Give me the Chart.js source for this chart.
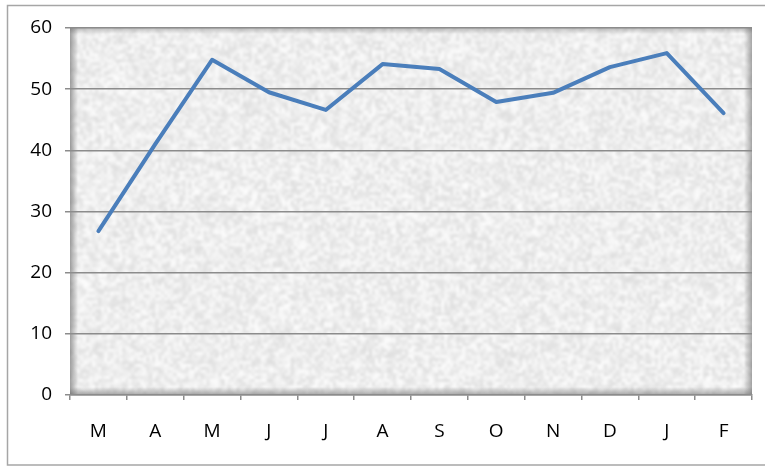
<!DOCTYPE html>
<html>
<head>
<meta charset="utf-8">
<script src="https://cdn.jsdelivr.net/npm/chart.js@4.4.1/dist/chart.umd.min.js"></script>
<style>
  html, body { margin: 0; padding: 0; background: #fff; }
  #wrap { width: 765px; height: 466px; position: relative; }
</style>
</head>
<body>
<div id="wrap"><canvas id="c" width="765" height="466"></canvas></div>
<script>
// Monthly values, March through February
const months = ['M', 'A', 'M', 'J', 'J', 'A', 'S', 'O', 'N', 'D', 'J', 'F'];
const values = [26.8, 41, 54.8, 49.5, 46.6, 54.1, 53.3, 47.9, 49.4, 53.6, 55.9, 46.1];
const yTicks = [0, 10, 20, 30, 40, 50, 60];

// Deterministic hash for the paper-grain texture
function hash(x, y) {
  let n = Math.imul(x, 374761393) ^ Math.imul(y, 668265263);
  n = Math.imul(n ^ (n >>> 13), 1274126177);
  n = n ^ (n >>> 16);
  return (n >>> 0) / 4294967295;
}

function makeGrain(w, h) {
  const cell = 3;
  const sw = Math.ceil(w / cell), sh = Math.ceil(h / cell);
  const small = document.createElement('canvas');
  small.width = sw; small.height = sh;
  const sctx = small.getContext('2d');
  const img = sctx.createImageData(sw, sh);
  for (let y = 0; y < sh; y++) {
    for (let x = 0; x < sw; x++) {
      const v = 222 + Math.round(hash(x, y) * 32);
      const i = (y * sw + x) * 4;
      img.data[i] = v; img.data[i + 1] = v; img.data[i + 2] = v; img.data[i + 3] = 255;
    }
  }
  sctx.putImageData(img, 0, 0);
  const big = document.createElement('canvas');
  big.width = w; big.height = h;
  const bctx = big.getContext('2d');
  bctx.fillStyle = '#ededed';
  bctx.fillRect(0, 0, w, h);
  bctx.filter = 'blur(1.2px)';
  bctx.imageSmoothingEnabled = true;
  bctx.drawImage(small, -2, -2, w + 4, h + 4);
  bctx.filter = 'none';
  return big;
}

const plotBackground = {
  id: 'plotBackground',
  beforeDraw(chart) {
    const ctx = chart.ctx;
    const a = chart.chartArea;
    // outer frame
    ctx.save();
    ctx.strokeStyle = '#a6a6a6';
    ctx.lineWidth = 1.5;
    ctx.strokeRect(7.5, 5.5, 800, 459.5);
    // textured plot area
    const w = Math.round(a.right - a.left), h = Math.round(a.bottom - a.top);
    ctx.drawImage(makeGrain(w, h), a.left, a.top);
    // soft inner shadow on the edges
    const edge = (x0, y0, x1, y1, rx, ry, rw, rh, alpha) => {
      const g = ctx.createLinearGradient(x0, y0, x1, y1);
      g.addColorStop(0, 'rgba(90,90,90,' + alpha + ')');
      g.addColorStop(1, 'rgba(90,90,90,0)');
      ctx.fillStyle = g;
      ctx.fillRect(rx, ry, rw, rh);
    };
    edge(a.left, 0, a.left + 8, 0, a.left, a.top, 8, h, 0.55);
    edge(a.right, 0, a.right - 8, 0, a.right - 8, a.top, 8, h, 0.5);
    edge(0, a.bottom, 0, a.bottom - 8, a.left, a.bottom - 8, w, 8, 0.5);
    edge(0, a.top, 0, a.top + 6, a.left, a.top, w, 6, 0.35);
    ctx.restore();
  }
};

const labelFont = { family: '"Open Sans", "Liberation Sans", sans-serif', size: 19 };

new Chart(document.getElementById('c'), {
  type: 'line',
  data: {
    labels: months,
    datasets: [{
      data: values,
      borderColor: '#4a7ebb',
      borderWidth: 4,
      pointRadius: 0,
      tension: 0,
      borderCapStyle: 'round',
      borderJoinStyle: 'round'
    }]
  },
  options: {
    responsive: false,
    animation: false,
    devicePixelRatio: 1,
    layout: { padding: { top: 28, right: 13, left: 0, bottom: 0 } },
    plugins: { legend: { display: false }, tooltip: { enabled: false } },
    scales: {
      x: {
        offset: true,
        grid: { offset: true, drawOnChartArea: false, drawTicks: true, tickLength: 5, color: '#8c8c8c', lineWidth: 1.5 },
        border: { display: true, color: '#8c8c8c', width: 1.5 },
        ticks: { color: '#000', font: labelFont, padding: 20, maxRotation: 0, autoSkip: false },
        afterFit(scale) { scale.height = 71; }
      },
      y: {
        min: 0, max: 60,
        afterBuildTicks(scale) { scale.ticks = yTicks.map(v => ({ value: v })); },
        grid: { color: '#8c8c8c', lineWidth: 1.5, tickLength: 5 },
        border: { display: false },
        ticks: { color: '#000', font: labelFont, padding: 13 },
        afterFit(scale) { scale.width = 70; }
      }
    }
  },
  plugins: [plotBackground]
});
</script>
</body>
</html>
